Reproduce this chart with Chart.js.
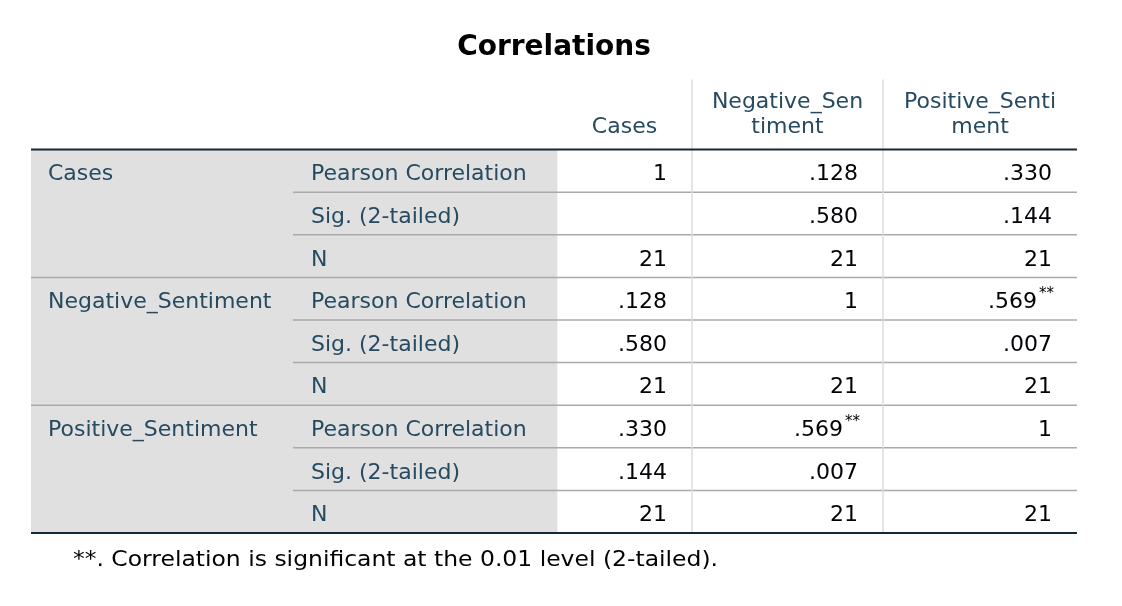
<!DOCTYPE html>
<html>
<head>
<meta charset="utf-8">
<script src="https://cdn.jsdelivr.net/npm/chart.js@4"></script>
<style>
  html, body { margin: 0; padding: 0; background: #ffffff; }
  canvas { display: block; }
</style>
</head>
<body>
<canvas id="chart" width="1122" height="606"></canvas>
<script>
const variables = ['Cases', 'Negative_Sentiment', 'Positive_Sentiment'];
const statistics = ['Pearson Correlation', 'Sig. (2-tailed)', 'N'];
const columnHeaders = [['Cases'], ['Negative_Sen', 'timent'], ['Positive_Senti', 'ment']];
const pearson = [
  [1, 0.128, 0.330],
  [0.128, 1, 0.569],
  [0.330, 0.569, 1]
];
const sigValues = [
  [null, 0.580, 0.144],
  [0.580, null, 0.007],
  [0.144, 0.007, null]
];
const nValues = [
  [21, 21, 21],
  [21, 21, 21],
  [21, 21, 21]
];
const flagged = [
  [false, false, false],
  [false, false, true],
  [false, true, false]
];
const title = 'Correlations';
const footnote = '**. Correlation is significant at the 0.01 level (2-tailed).';

// mise en page
const FONT = '"DejaVu Sans", sans-serif';
const colWidths = [262, 264, 135, 191, 194];
const edges = [0];
colWidths.forEach(w => edges.push(edges[edges.length - 1] + w));

const rowKeys = [];
variables.forEach(v => statistics.forEach(s => rowKeys.push(v + ' / ' + s)));

function fmt(v) {
  if (v === null) return '';
  if (v === 1) return '1';
  if (Number.isInteger(v)) return String(v);
  return v.toFixed(3).replace(/^0/, '');
}

function cellValue(r, c) {
  const v = Math.floor(r / 3), s = r % 3;
  if (s === 0) return fmt(pearson[v][c]);
  if (s === 1) return fmt(sigValues[v][c]);
  return fmt(nValues[v][c]);
}

const tablePlugin = {
  id: 'tableText',
  afterDatasetsDraw(chart) {
    const ctx = chart.ctx;
    const xs = chart.scales.x, ys = chart.scales.y;
    const area = chart.chartArea;
    const left = xs.getPixelForValue(edges[0]);
    const right = xs.getPixelForValue(edges[5]);
    ctx.save();

    // lignes horizontales entre les lignes
    for (let i = 1; i < rowKeys.length; i++) {
      const y = (ys.getPixelForValue(i - 1) + ys.getPixelForValue(i)) / 2;
      const x0 = i % 3 === 0 ? left : xs.getPixelForValue(edges[1]);
      ctx.strokeStyle = '#aaaaaa';
      ctx.lineWidth = 1.5;
      ctx.beginPath();
      ctx.moveTo(x0, y);
      ctx.lineTo(right, y);
      ctx.stroke();
    }

    // lignes verticales
    ctx.strokeStyle = '#dddddd';
    ctx.lineWidth = 1.5;
    [edges[3], edges[4]].forEach(e => {
      const x = xs.getPixelForValue(e);
      ctx.beginPath();
      ctx.moveTo(x, area.top - 70);
      ctx.lineTo(x, area.bottom);
      ctx.stroke();
    });

    // bordures haut et bas
    ctx.strokeStyle = '#152935';
    ctx.lineWidth = 2;
    [area.top, area.bottom].forEach(y => {
      ctx.beginPath();
      ctx.moveTo(left, y);
      ctx.lineTo(right, y);
      ctx.stroke();
    });

    // en-tetes
    ctx.font = '22px ' + FONT;
    ctx.fillStyle = '#264a60';
    ctx.textAlign = 'center';
    ctx.textBaseline = 'alphabetic';
    columnHeaders.forEach((lines, c) => {
      const cx = (xs.getPixelForValue(edges[c + 2]) + xs.getPixelForValue(edges[c + 3])) / 2;
      lines.forEach((t, k) => {
        const y = area.top - 16.5 - (lines.length - 1 - k) * 25;
        ctx.fillText(t, cx, y);
      });
    });

    // libelles des lignes
    ctx.textAlign = 'left';
    rowKeys.forEach((key, r) => {
      const y = ys.getPixelForValue(r) + 9.5;
      if (r % 3 === 0) ctx.fillText(variables[r / 3], xs.getPixelForValue(edges[0]) + 17, y);
      ctx.fillText(statistics[r % 3], xs.getPixelForValue(edges[1]) + 18, y);
    });

    // valeurs
    rowKeys.forEach((key, r) => {
      const y = ys.getPixelForValue(r) + 9.5;
      for (let c = 0; c < 3; c++) {
        const txt = cellValue(r, c);
        if (!txt) continue;
        let xr = xs.getPixelForValue(edges[c + 3]) - 25;
        const star = (r % 3 === 0) && flagged[Math.floor(r / 3)][c];
        if (star) {
          ctx.font = '15px ' + FONT;
          const w = ctx.measureText('**').width;
          ctx.fillStyle = '#010205';
          ctx.textAlign = 'left';
          ctx.fillText('**', xr - w + 2, y - 10);
          xr -= w;
        }
        ctx.font = '22px ' + FONT;
        ctx.fillStyle = '#010205';
        ctx.textAlign = 'right';
        ctx.fillText(txt, xr, y);
      }
    });

    // note de bas de tableau (etiree a la largeur de l'original)
    ctx.font = '22px ' + FONT;
    ctx.fillStyle = '#010205';
    ctx.textAlign = 'left';
    const fx = left + 42, fy = area.bottom + 33;
    const fw = ctx.measureText(footnote).width;
    ctx.translate(fx, fy);
    ctx.scale(645 / fw, 1);
    ctx.fillText(footnote, 0, 0);
    ctx.restore();
  }
};

const ctx = document.getElementById('chart');
const chart = new Chart(ctx, {
  type: 'bar',
  data: {
    labels: rowKeys,
    datasets: [{
      data: rowKeys.map(() => [edges[0], edges[2]]),
      backgroundColor: '#e0e0e0',
      borderWidth: 0,
      barPercentage: 1,
      categoryPercentage: 1
    }]
  },
  options: {
    indexAxis: 'y',
    responsive: false,
    animation: false,
    layout: { padding: { left: 31, right: 45, top: 0, bottom: 73 } },
    scales: {
      x: { type: 'linear', min: edges[0], max: edges[5], display: false },
      y: { type: 'category', display: false }
    },
    plugins: {
      legend: { display: false },
      tooltip: { enabled: false },
      title: {
        display: true,
        text: title,
        color: '#000000',
        font: { family: FONT, size: 28, weight: 'bold' },
        padding: { top: 31, bottom: 85 }
      }
    }
  },
  plugins: [tablePlugin]
});
</script>
</body>
</html>
